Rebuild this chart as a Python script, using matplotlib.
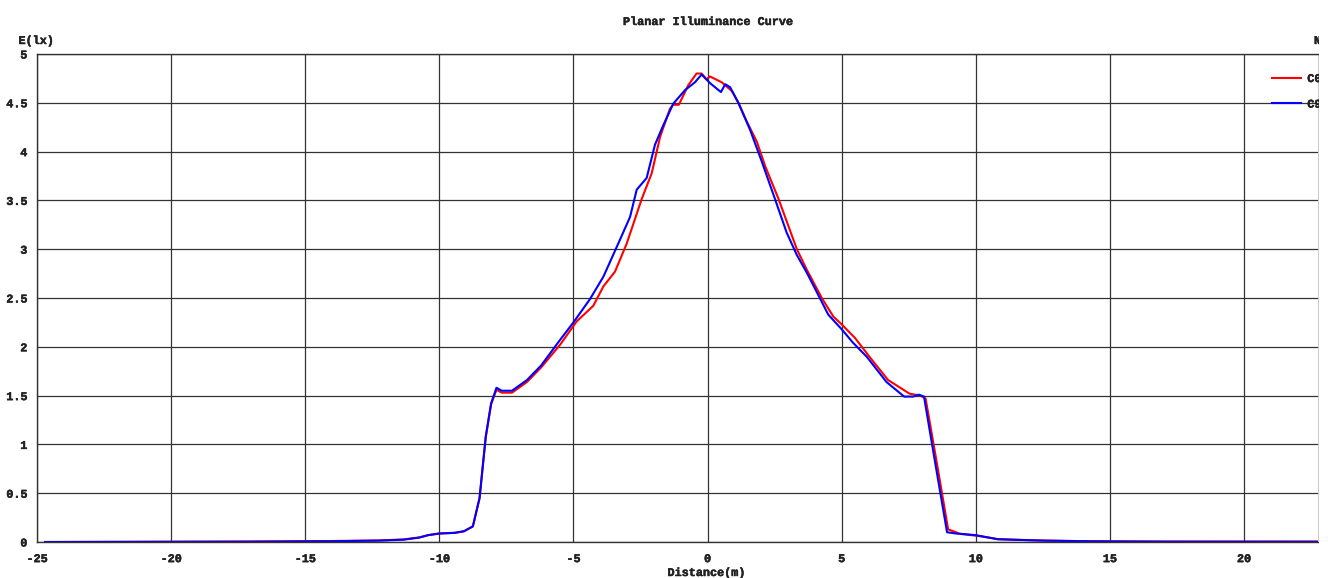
import matplotlib.pyplot as plt
import matplotlib.patheffects as pe
from matplotlib.patches import Rectangle

# curva de iluminancia planar
dist_c0 = [-24.7, -17.4, -14, -12.25, -11.33, -10.75, -10.42, -10.0, -9.42, -9.08, -8.75, -8.5,
           -8.27, -8.07, -7.87, -7.67, -7.29, -6.73, -6.2, -5.5, -4.88, -4.26, -3.88, -3.45,
           -3.01, -2.46, -2.08, -1.77, -1.40, -1.28, -1.07, -0.72, -0.41, -0.22, -0.04, 0.09,
           0.53, 0.91, 1.15, 1.46, 1.84, 2.15, 2.64, 3.33, 3.70, 4.26, 4.69, 5.0, 5.5, 6.06,
           6.73, 7.53, 7.93, 8.13, 8.53, 8.97, 9.4, 10.15, 10.82, 11.64, 12.53, 14.24, 17.07, 22.76]
lux_c0 = [0.0, 0.005, 0.01, 0.016, 0.026, 0.047, 0.07, 0.087, 0.094, 0.11, 0.16, 0.45,
          1.07, 1.41, 1.56, 1.53, 1.53, 1.64, 1.79, 2.02, 2.26, 2.42, 2.62, 2.77,
          3.06, 3.51, 3.78, 4.15, 4.44, 4.48, 4.48, 4.68, 4.80, 4.80, 4.74, 4.77,
          4.71, 4.62, 4.50, 4.31, 4.10, 3.85, 3.52, 3.0, 2.79, 2.50, 2.31, 2.23, 2.09, 1.89,
          1.66, 1.52, 1.50, 1.47, 0.84, 0.13, 0.085, 0.06, 0.03, 0.022, 0.015, 0.008, 0.005, 0.005]

dist_c90 = [-24.7, -17, -14, -12.25, -11.33, -10.75, -10.42, -10.0, -9.42, -9.08, -8.75, -8.5,
            -8.27, -8.07, -7.87, -7.67, -7.29, -6.73, -6.2, -5.5, -5.0, -4.38, -3.88, -3.26,
            -2.89, -2.64, -2.27, -1.96, -1.65, -1.28, -0.84, -0.47, -0.22, 0.10, 0.5, 0.66,
            0.84, 1.15, 1.59, 2.02, 2.52, 2.95, 3.33, 3.70, 4.13, 4.50, 5.0, 5.43, 5.93, 6.67,
            7.33, 7.67, 7.87, 8.07, 8.47, 8.93, 9.26, 10.0, 10.82, 11.64, 12.53, 14.24, 17.07, 22.76]
lux_c90 = [0.0, 0.003, 0.008, 0.014, 0.024, 0.045, 0.07, 0.087, 0.094, 0.11, 0.16, 0.45,
           1.08, 1.42, 1.58, 1.55, 1.55, 1.66, 1.81, 2.07, 2.25, 2.49, 2.72, 3.10,
           3.33, 3.61, 3.73, 4.07, 4.27, 4.49, 4.63, 4.71, 4.79, 4.70, 4.61, 4.69,
           4.66, 4.50, 4.22, 3.90, 3.51, 3.17, 2.94, 2.76, 2.53, 2.33, 2.18, 2.04, 1.90, 1.64,
           1.49, 1.49, 1.51, 1.49, 0.84, 0.10, 0.087, 0.07, 0.028, 0.021, 0.014, 0.007, 0.003, 0.002]

x_ticks = [-25, -20, -15, -10, -5, 0, 5, 10, 15, 20]
y_ticks = [0, 0.5, 1, 1.5, 2, 2.5, 3, 3.5, 4, 4.5, 5]

plt.rcParams['font.family'] = ['Liberation Mono', 'DejaVu Sans Mono']
plt.rcParams['font.weight'] = 'bold'
plt.rcParams['font.size'] = 8.5

# contorno fino para deixar o texto mais "negrito", como no original
negrito = [pe.withStroke(linewidth=0.35, foreground='#222222')]

fig = plt.figure(figsize=(13.28, 5.78), dpi=100)
ax = fig.add_axes([37 / 1328, 36 / 578, 1281 / 1328, 488 / 578])

ax.plot(dist_c0, lux_c0, color='#ff0000', linewidth=1.5, label='C0')
ax.plot(dist_c90, lux_c90, color='#0000ff', linewidth=1.5, label='C90')

ax.set_xlim(-25, 22.76)
ax.set_ylim(0, 5)
ax.set_xticks(x_ticks)
ax.set_xticklabels([str(v) for v in x_ticks], fontweight='bold')
ax.set_yticks(y_ticks)
ax.set_yticklabels(['%g' % v for v in y_ticks], fontweight='bold')
ax.tick_params(length=0, labelsize=8.5, colors='#222222')
ax.tick_params(axis='x', pad=8)
ax.tick_params(axis='y', pad=7)
for t in ax.get_xticklabels() + ax.get_yticklabels():
    t.set_path_effects(negrito)
ax.grid(True, color='#333333', linewidth=0.9)
ax.set_axisbelow(True)
for s in ['left', 'top', 'bottom']:
    ax.spines[s].set_color('#333333')
    ax.spines[s].set_linewidth(1.0)
ax.spines['right'].set_color('#cccccc')

leg = ax.legend(loc='upper left', bbox_to_anchor=(0.964, 0.961), frameon=False, borderpad=0,
                borderaxespad=0, handlelength=2.45, handletextpad=0.55, labelspacing=1.15,
                prop={'weight': 'bold', 'size': 8.5})
for t in leg.get_texts():
    t.set_color('#222222')
    t.set_path_effects(negrito)

# titulos e rotulos
fig.text(707 / 1328, 1 - 22 / 578, 'Planar Illuminance Curve', ha='center', va='center',
         fontsize=8.5, fontweight='bold', color='#222222', path_effects=negrito)
fig.text(36 / 1328, 1 - 41 / 578, 'E(lx)', ha='center', va='center', fontsize=8.5,
         fontweight='bold', color='#222222', path_effects=negrito)
fig.text(706 / 1328, 1 - 573 / 578, 'Distance(m)', ha='center', va='center', fontsize=8.5,
         fontweight='bold', color='#222222', path_effects=negrito)
fig.text(1314 / 1328, 1 - 41 / 578, 'N', ha='left', va='center', fontsize=8.5,
         fontweight='bold', color='#222222', path_effects=negrito)

# borda direita cortada como na imagem original
fig.patches.append(Rectangle((1319 / 1328, 0), 9 / 1328, 1, transform=fig.transFigure,
                             facecolor='white', edgecolor='none', zorder=100))

plt.savefig('out.png', dpi=100)
